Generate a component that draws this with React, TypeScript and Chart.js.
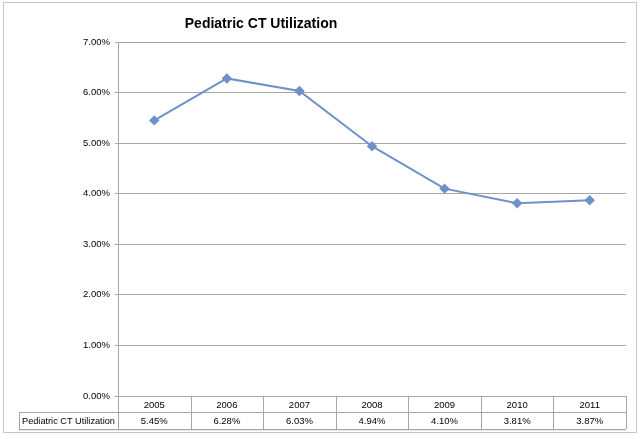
import React, { useEffect, useRef } from "react";
import { Chart, registerables } from "chart.js";

Chart.register(...registerables);

const years = ["2005", "2006", "2007", "2008", "2009", "2010", "2011"];
const utilization = [5.45, 6.28, 6.03, 4.94, 4.1, 3.81, 3.87];
const seriesName = "Pediatric CT Utilization";
const chartTitle = "Pediatric CT Utilization";
const yMin = 0;
const yMax = 7;
const yStep = 1;

const FONT = "'Liberation Sans', Arial, sans-serif";
const GRID = "#a6a6a6";
const LINE = "#6e91c9";

const tablePlugin = {
  id: "dataTable",
  afterDraw(chart: any) {
    const { ctx, chartArea } = chart;
    const xs = chart.scales.x;
    const n = years.length;
    const colW = (chartArea.right - chartArea.left) / n;
    const top = chartArea.bottom;
    const mid = top + 16;
    const bot = top + 33;
    const labelLeft = 19;
    ctx.save();
    // outer frame
    ctx.strokeStyle = "#c4c4c4";
    ctx.lineWidth = 1;
    ctx.strokeRect(3.5, 2.5, 633, 430);
    // title
    ctx.fillStyle = "#000";
    ctx.font = `bold 14px ${FONT}`;
    ctx.textAlign = "center";
    ctx.textBaseline = "alphabetic";
    ctx.fillText(chartTitle, 261, 28);
    // table lines
    ctx.strokeStyle = GRID;
    ctx.beginPath();
    ctx.moveTo(labelLeft, mid + 0.5);
    ctx.lineTo(chartArea.right, mid + 0.5);
    ctx.moveTo(labelLeft, bot + 0.5);
    ctx.lineTo(chartArea.right, bot + 0.5);
    ctx.moveTo(labelLeft + 0.5, mid);
    ctx.lineTo(labelLeft + 0.5, bot);
    for (let i = 0; i <= n; i++) {
      const x = Math.round(chartArea.left + i * colW) + 0.5;
      ctx.moveTo(x, top);
      ctx.lineTo(x, bot);
    }
    ctx.stroke();
    // faint shadow
    ctx.strokeStyle = "#e6e6e6";
    ctx.beginPath();
    ctx.moveTo(labelLeft, bot + 1.5);
    ctx.lineTo(chartArea.right, bot + 1.5);
    ctx.stroke();
    // texts
    ctx.fillStyle = "#000";
    ctx.font = `9.5px ${FONT}`;
    ctx.textBaseline = "middle";
    ctx.textAlign = "center";
    for (let i = 0; i < n; i++) {
      const cx = xs.getPixelForValue(i);
      ctx.fillText(years[i], cx, (top + mid) / 2 + 1);
      ctx.fillText(utilization[i].toFixed(2) + "%", cx, (mid + bot) / 2 + 1);
    }
    ctx.font = `9.2px ${FONT}`;
    ctx.textAlign = "left";
    ctx.fillText(seriesName, labelLeft + 3, (mid + bot) / 2 + 1);
    ctx.restore();
  },
};

export default function App() {
  const ref = useRef<HTMLCanvasElement | null>(null);
  useEffect(() => {
    if (!ref.current) return;
    const chart = new Chart(ref.current, {
      type: "line",
      data: {
        labels: years,
        datasets: [
          {
            label: seriesName,
            data: utilization,
            borderColor: LINE,
            backgroundColor: LINE,
            borderWidth: 2,
            pointStyle: "rectRot",
            pointRadius: 3.8,
            pointBackgroundColor: LINE,
            pointBorderColor: LINE,
            tension: 0,
          },
        ],
      },
      options: {
        animation: false,
        responsive: true,
        maintainAspectRatio: false,
        layout: { padding: { left: 0, top: 42, right: 14, bottom: 43 } },
        plugins: {
          legend: { display: false },
          title: { display: false },
          tooltip: { enabled: false },
        },
        scales: {
          x: {
            display: false,
            offset: true,
          },
          y: {
            min: yMin,
            max: yMax,
            afterFit(scale: any) {
              scale.width = 118;
            },
            ticks: {
              stepSize: yStep,
              padding: 5,
              color: "#000",
              font: { family: FONT, size: 9.5 },
              callback: (v: any) => Number(v).toFixed(2) + "%",
            },
            grid: {
              color: GRID,
              tickLength: 3,
              drawTicks: true,
            },
            border: { display: true, color: GRID },
          },
        },
      },
      plugins: [tablePlugin],
    });
    return () => chart.destroy();
  }, []);
  return (
    <div style={{ position: "absolute", left: 0, top: 0, width: 640, height: 439, background: "#fff" }}>
      <canvas ref={ref} />
    </div>
  );
}
